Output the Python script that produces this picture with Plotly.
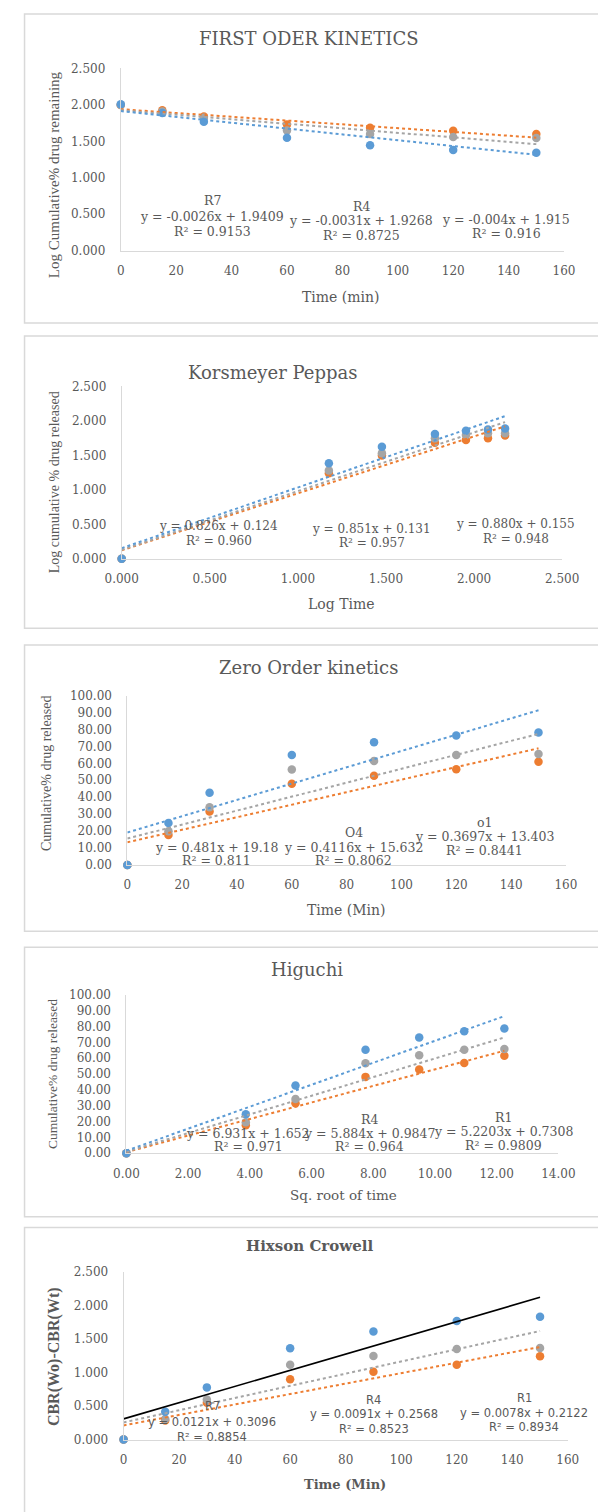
import plotly.graph_objects as go

# ---------------- data ----------------
time_min = [0, 15, 30, 60, 90, 120, 150]
log_time = [0.000, 1.176, 1.477, 1.778, 1.954, 2.079, 2.176]
sqrt_time = [0.00, 3.87, 5.48, 7.75, 9.49, 10.95, 12.25]

# First order: log cumulative % drug remaining
fo_orange = [2.000, 1.925, 1.840, 1.730, 1.685, 1.645, 1.600]
fo_gray = [2.000, 1.910, 1.825, 1.650, 1.600, 1.560, 1.545]
fo_blue = [2.010, 1.890, 1.770, 1.550, 1.445, 1.380, 1.345]

# Korsmeyer Peppas: log cumulative % drug released
kp_orange = [0.000, 1.243, 1.500, 1.684, 1.723, 1.750, 1.790]
kp_gray = [0.000, 1.280, 1.530, 1.747, 1.795, 1.820, 1.820]
kp_blue = [0.000, 1.387, 1.627, 1.810, 1.857, 1.876, 1.890]

# Zero order: cumulative % drug released
zo_orange = [0.00, 17.7, 31.6, 48.0, 52.6, 56.5, 61.0]
zo_gray = [0.00, 19.9, 34.1, 56.3, 61.4, 64.9, 65.5]
zo_blue = [0.00, 24.8, 42.7, 64.9, 72.5, 76.4, 78.2]

# Higuchi: cumulative % drug released vs sq. root of time
hg_orange = [0.00, 17.7, 31.5, 48.2, 52.8, 57.0, 61.6]
hg_gray = [0.00, 19.6, 34.2, 56.8, 61.8, 65.3, 65.8]
hg_blue = [0.00, 24.6, 42.8, 65.3, 73.1, 77.0, 78.7]

# Hixson Crowell: CBR(Wo) - CBR(Wt)
hc_orange = [0.000, 0.287, 0.550, 0.900, 1.013, 1.117, 1.245]
hc_gray = [0.000, 0.306, 0.600, 1.117, 1.250, 1.354, 1.369]
hc_blue = [0.000, 0.415, 0.780, 1.364, 1.616, 1.770, 1.833]

# Linear trendlines (order: orange, gray, blue): slope, intercept, R², name
fo_slope = ["-0.0026", "-0.0031", "-0.004"]
fo_icpt = ["1.9409", "1.9268", "1.915"]
fo_r2 = ["0.9153", "0.8725", "0.916"]
fo_name = ["R7", "R4", ""]

kp_slope = ["0.826", "0.851", "0.880"]
kp_icpt = ["0.124", "0.131", "0.155"]
kp_r2 = ["0.960", "0.957", "0.948"]
kp_name = ["", "", ""]

zo_slope = ["0.3697", "0.4116", "0.481"]
zo_icpt = ["13.403", "15.632", "19.18"]
zo_r2 = ["0.8441", "0.8062", "0.811"]
zo_name = ["o1", "O4", ""]

hg_slope = ["5.2203", "5.884", "6.931"]
hg_icpt = ["0.7308", "0.9847", "1.652"]
hg_r2 = ["0.9809", "0.964", "0.971"]
hg_name = ["R1", "R4", ""]

hc_slope = ["0.0078", "0.0091", "0.0121"]
hc_icpt = ["0.2122", "0.2568", "0.3096"]
hc_r2 = ["0.8934", "0.8523", "0.8854"]
hc_name = ["R1", "R4", "R7"]

# ---------------- styling ----------------
W, H = 598, 1512
BLUE, ORANGE, GRAY = "#5B9BD5", "#ED7D31", "#A5A5A5"
TXT = "#595959"
AX = "#D9D9D9"
SERIF = "DejaVu Serif"
TIMES = "Liberation Serif"
SANS = "DejaVu Sans"
COLORS = [ORANGE, GRAY, BLUE]


def fx(x):
    return x / W


def fy(y):
    return 1 - y / H


panels = [
    dict(x=time_min, ys=[fo_orange, fo_gray, fo_blue],
         slope=fo_slope, icpt=fo_icpt, r2=fo_r2, name=fo_name,
         title="FIRST ODER KINETICS", title_font=dict(family=SERIF, size=18, color=TXT), title_pos=(309, 32),
         xtitle="Time (min)", xtitle_font=dict(family=SERIF, size=14, color=TXT), xtitle_pos=(344, 293),
         ytitle="Log Cumulative% drug remaining", ytitle_font=dict(family=TIMES, size=15, color=TXT), ytitle_pos=(40, 169),
         plot=(110, 580, 62, 246), xr=[0, 160], xd=20, xf="", yr=[0, 2.5], yd=0.5, yf=".3f",
         box=(7, 319), ann_font=dict(family=SERIF, size=12.5, color=TXT),
         ann=[[(207, 195), (207, 211), (207, 227)],
              [(365, 201), (365, 216), (365, 231)],
              [None, (519, 214), (519, 229)]],
         trend_colors=[ORANGE, GRAY, BLUE], trend_dash=["dot", "dot", "dot"]),
    dict(x=log_time, ys=[kp_orange, kp_gray, kp_blue],
         slope=kp_slope, icpt=kp_icpt, r2=kp_r2, name=kp_name,
         title="Korsmeyer Peppas", title_font=dict(family=SERIF, size=18, color=TXT), title_pos=(271, 369),
         xtitle="Log Time", xtitle_font=dict(family=SERIF, size=14, color=TXT), xtitle_pos=(344, 603),
         ytitle="Log cumulative % drug released", ytitle_font=dict(family=TIMES, size=14, color=TXT), ytitle_pos=(40, 480),
         plot=(111, 578, 383, 557), xr=[0, 2.5], xd=0.5, xf=".3f", yr=[0, 2.5], yd=0.5, yf=".3f",
         box=(332, 627), ann_font=dict(family=SERIF, size=12, color=TXT),
         ann=[[None, (214, 524), (214, 539)],
              [None, (376, 527), (376, 541)],
              [None, (529, 522), (529, 537)]],
         trend_colors=[ORANGE, GRAY, BLUE], trend_dash=["dot", "dot", "dot"]),
    dict(x=time_min, ys=[zo_orange, zo_gray, zo_blue],
         slope=zo_slope, icpt=zo_icpt, r2=zo_r2, name=zo_name,
         title="Zero Order kinetics", title_font=dict(family=SERIF, size=18, color=TXT), title_pos=(309, 667),
         xtitle="Time (Min)", xtitle_font=dict(family=SERIF, size=14, color=TXT), xtitle_pos=(349, 911),
         ytitle="Cumulative% drug released", ytitle_font=dict(family=TIMES, size=14, color=TXT), ytitle_pos=(32, 773),
         plot=(117, 582, 695, 866), xr=[0, 160], xd=20, xf="", yr=[0, 100], yd=10, yf=".2f",
         box=(644, 933), ann_font=dict(family=SERIF, size=12.5, color=TXT),
         ann=[[(496, 823), (496, 837), (496, 851)],
              [(357, 833), (357, 848), (357, 861)],
              [None, (212, 848), (212, 861)]],
         trend_colors=[ORANGE, GRAY, BLUE], trend_dash=["dot", "dot", "dot"]),
    dict(x=sqrt_time, ys=[hg_orange, hg_gray, hg_blue],
         slope=hg_slope, icpt=hg_icpt, r2=hg_r2, name=hg_name,
         title="Higuchi", title_font=dict(family=SERIF, size=18, color=TXT), title_pos=(308, 971),
         xtitle="Sq. root of time", xtitle_font=dict(family=SERIF, size=13.5, color=TXT), xtitle_pos=(346, 1199),
         ytitle="Cumulative% drug released", ytitle_font=dict(family=TIMES, size=13.5, color=TXT), ytitle_pos=(37, 1077),
         plot=(116, 574, 997, 1157), xr=[0, 14], xd=2, xf=".2f", yr=[0, 100], yd=10, yf=".2f",
         box=(949, 1221), ann_font=dict(family=SERIF, size=12.5, color=TXT),
         ann=[[(516, 1121), (516, 1135), (516, 1149)],
              [(374, 1123), (374, 1137), (374, 1150)],
              [None, (245, 1137), (245, 1150)]],
         trend_colors=[ORANGE, GRAY, BLUE], trend_dash=["dot", "dot", "dot"]),
    dict(x=time_min, ys=[hc_orange, hc_gray, hc_blue],
         slope=hc_slope, icpt=hc_icpt, r2=hc_r2, name=hc_name,
         title="<b>Hixson Crowell</b>", title_font=dict(family=SERIF, size=15, color=TXT), title_pos=(310, 1251),
         xtitle="<b>Time (Min)</b>", xtitle_font=dict(family=SERIF, size=13, color=TXT), xtitle_pos=(348, 1491),
         ytitle="<b>CBR(Wo)-CBR(Wt)</b>", ytitle_font=dict(family=TIMES, size=16, color=TXT), ytitle_pos=(40, 1362),
         plot=(113, 584, 1277, 1446), xr=[0, 160], xd=20, xf="", yr=[0, 2.5], yd=0.5, yf=".3f",
         box=(1232, 1530), ann_font=dict(family=SANS, size=11.5, color=TXT),
         ann=[[(538, 1404), (538, 1419), (538, 1433)],
              [(378, 1406), (378, 1420), (378, 1435)],
              [(207, 1412), (207, 1428), (207, 1443)]],
         trend_colors=[ORANGE, GRAY, "#000000"], trend_dash=["dot", "dot", "solid"]),
]

fig = go.Figure()
layout = dict(
    width=W, height=H, margin=dict(l=0, r=0, t=0, b=0),
    paper_bgcolor="white", plot_bgcolor="white", showlegend=False,
    annotations=[], shapes=[],
)

for i, p in enumerate(panels):
    k = "" if i == 0 else str(i + 1)
    xa, ya = "x" + k, "y" + k
    x0, x1, y0, y1 = p["plot"]
    layout["xaxis" + k] = dict(
        domain=[fx(x0), fx(x1)], range=p["xr"], dtick=p["xd"], tick0=0, tickformat=p["xf"],
        showline=True, linecolor=AX, linewidth=1, showgrid=False, zeroline=False, ticks="",
        tickfont=dict(family=SERIF, size=12, color=TXT), anchor=ya, fixedrange=True,
        ticklabelstandoff=9,
    )
    layout["yaxis" + k] = dict(
        domain=[fy(y1), fy(y0)], range=p["yr"], dtick=p["yd"], tick0=0, tickformat=p["yf"],
        showline=True, linecolor=AX, linewidth=1, showgrid=False, zeroline=False, ticks="",
        tickfont=dict(family=SERIF, size=12, color=TXT), anchor=xa, fixedrange=True,
        ticklabelstandoff=12,
    )

    # data points
    for ys, c in zip(p["ys"], COLORS):
        fig.add_trace(go.Scatter(
            x=p["x"], y=ys, mode="markers", xaxis=xa, yaxis=ya, cliponaxis=False,
            marker=dict(color=c, size=8.5, line=dict(width=0)), hoverinfo="skip",
        ))

    # fitted trendlines from the stated equations
    xs = [0, max(p["x"])]
    for m, b, c, d in zip(p["slope"], p["icpt"], p["trend_colors"], p["trend_dash"]):
        mv, bv = float(m), float(b)
        fig.add_trace(go.Scatter(
            x=xs, y=[mv * v + bv for v in xs], mode="lines", xaxis=xa, yaxis=ya,
            line=dict(color=c, width=2 if d == "dot" else 1.6, dash=d), hoverinfo="skip",
        ))

    # equation labels
    for j in range(3):
        m, b = p["slope"][j], p["icpt"][j]
        if b.startswith("-"):
            eq = f"y = {m}x - {b[1:]}"
        else:
            eq = f"y = {m}x + {b}"
        texts = [p["name"][j], eq, f"R² = {p['r2'][j]}"]
        for t, pos in zip(texts, p["ann"][j]):
            if pos is None or not t:
                continue
            layout["annotations"].append(dict(
                text=t, x=fx(pos[0]), y=fy(pos[1]), xref="paper", yref="paper",
                xanchor="center", yanchor="middle", showarrow=False, font=p["ann_font"],
            ))

    # titles
    for key in ("title", "xtitle"):
        pos = p[key + "_pos"]
        layout["annotations"].append(dict(
            text=p[key], x=fx(pos[0]), y=fy(pos[1]), xref="paper", yref="paper",
            xanchor="center", yanchor="middle", showarrow=False, font=p[key + "_font"],
        ))
    pos = p["ytitle_pos"]
    layout["annotations"].append(dict(
        text=p["ytitle"], x=fx(pos[0]), y=fy(pos[1]), xref="paper", yref="paper",
        xanchor="center", yanchor="middle", showarrow=False, textangle=-90, font=p["ytitle_font"],
    ))

    # chart-area border
    bt, bb = p["box"]
    layout["shapes"].append(dict(
        type="rect", xref="paper", yref="paper", x0=fx(8), x1=fx(620), y0=fy(bb), y1=fy(bt),
        line=dict(color=AX, width=1.5), fillcolor="rgba(0,0,0,0)", layer="below",
    ))

fig.update_layout(**layout)
fig.write_html("out.html", config=dict(displayModeBar=False, staticPlot=True))
